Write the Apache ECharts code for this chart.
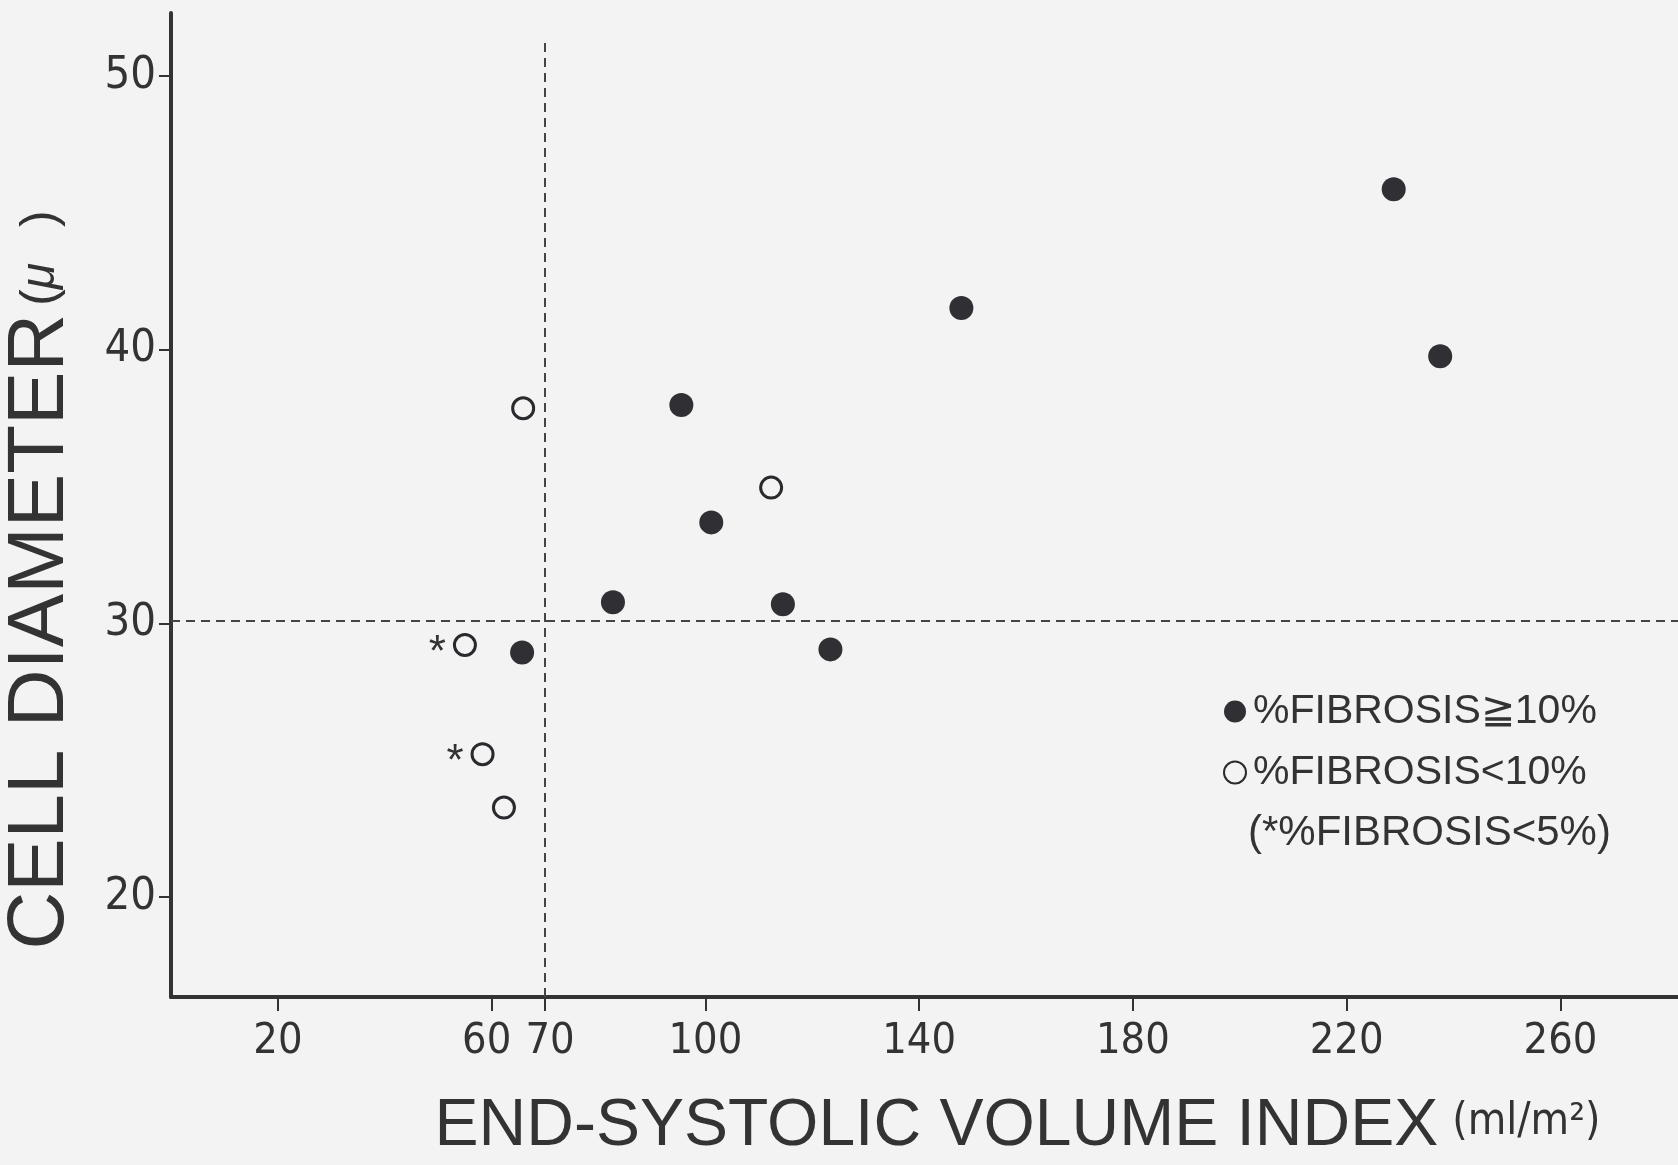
<!DOCTYPE html>
<html>
<head>
<meta charset="utf-8">
<script src="https://cdn.jsdelivr.net/npm/echarts@6/dist/echarts.min.js"></script>
<style>
  body { margin: 0; background: #f4f3f4; }
  #box { width: 1678px; height: 1165px; }
</style>
</head>
<body>
<div id="box"></div>
<script>
// %FIBROSIS >= 10% (filled circles)
const fillX = [228.8, 147.9, 237.5, 95.5, 101.1, 82.7, 114.5, 65.7, 123.4];
const fillY = [45.86, 41.52, 39.76, 37.98, 33.69, 30.77, 30.7, 28.94, 29.05];
// %FIBROSIS < 10% (open circles), star = %FIBROSIS < 5%
const openX = [65.9, 112.3, 55.0, 58.3, 62.3];
const openY = [37.86, 34.96, 29.21, 25.22, 23.27];
const openStar = [false, false, true, true, false];

const xTicks = [20, 60, 70, 100, 140, 180, 220, 260];
const yTicks = [20, 30, 40, 50];
const refX = 70;
const refY = 30.1;

const ink = "#333";
const narrow = "'Liberation Sans Narrow', 'DejaVu Sans Condensed', 'Liberation Sans', sans-serif";
const sans = "'Liberation Sans', Arial, sans-serif";

let chart = echarts.init(document.getElementById("box"));

chart.setOption({
  backgroundColor: "#f4f3f4",
  animation: false,
  grid: { left: 171, right: 0, top: 13, bottom: 168, outerBoundsMode: "none", containLabel: false },
  xAxis: {
    type: "value",
    min: 0,
    max: 282,
    splitLine: { show: false },
    axisLine: { lineStyle: { color: ink, width: 4 } },
    axisTick: { customValues: xTicks, length: 14, lineStyle: { color: ink, width: 2 } },
    axisLabel: {
      customValues: xTicks,
      margin: 23,
      color: ink,
      fontSize: 43,
      fontFamily: narrow,
      // 60 and 70 sit close together, nudge them apart a little
      formatter: (v) => (v === 60 ? "{l|60}" : v === 70 ? "{r|70}" : String(v)),
      rich: {
        l: { fontSize: 43, fontFamily: narrow, color: ink, padding: [0, 10, 0, 0] },
        r: { fontSize: 43, fontFamily: narrow, color: ink, padding: [0, 0, 0, 10] },
      },
    },
    name: "END-SYSTOLIC VOLUME INDEX{u|(ml/m²)}",
    nameLocation: "middle",
    nameMoveOverlap: false,
    nameGap: 97,
    nameTextStyle: {
      color: ink, fontSize: 66, fontFamily: sans,
      padding: [0, 0, 0, 186],
      rich: { u: { fontSize: 44, fontFamily: narrow, color: ink, padding: [0, 0, 8, 14] } },
    },
  },
  yAxis: {
    type: "value",
    min: 16.35,
    max: 52.3,
    splitLine: { show: false },
    axisLine: { lineStyle: { color: ink, width: 4 } },
    axisTick: { customValues: yTicks, length: 12, lineStyle: { color: ink, width: 2 } },
    axisLabel: { customValues: yTicks, margin: 15, color: ink, fontSize: 45, fontFamily: narrow },
    name: "CELL DIAMETER{p|(}{m|μ}{p|  )}",
    nameLocation: "middle",
    nameMoveOverlap: false,
    nameRotate: 90,
    nameGap: 90,
    nameTextStyle: {
      color: ink, fontSize: 80, fontFamily: sans,
      padding: [0, 150, 0, 0],
      rich: {
        p: { fontSize: 50, fontFamily: sans, color: ink, padding: [0, 0, 0, 8] },
        m: { fontSize: 48, fontFamily: sans, fontStyle: "italic", color: ink },
      },
    },
  },
  legend: {
    orient: "vertical",
    left: 1218,
    top: 686,
    itemWidth: 22,
    itemHeight: 22,
    itemGap: 20,
    textStyle: { color: ink, fontSize: 41, fontFamily: sans, padding: [0, 0, 0, 2] },
    data: ["%FIBROSIS≧10%", "%FIBROSIS<10%"],
  },
  graphic: [
    {
      type: "text",
      left: 1248,
      top: 812,
      style: { text: "(*%FIBROSIS<5%)", fill: ink, font: "42px " + sans },
    },
  ],
  series: [
    {
      name: "%FIBROSIS≧10%",
      type: "scatter",
      symbol: "circle",
      symbolSize: 24,
      itemStyle: { color: "#303034", opacity: 1 },
      data: fillX.map((x, i) => [x, fillY[i]]),
      markLine: {
        silent: true,
        symbol: "none",
        label: { show: false },
        lineStyle: { color: "#444", width: 2, type: [9, 6] },
        data: [
          [{ coord: [refX, 16.35] }, { coord: [refX, 51.33] }],
          [{ coord: [0, refY] }, { coord: [282, refY] }],
        ],
      },
    },
    {
      name: "%FIBROSIS<10%",
      type: "scatter",
      symbol: "circle",
      symbolSize: 21,
      itemStyle: { color: "#f4f3f4", borderColor: "#2a2a2e", borderWidth: 3, opacity: 1 },
      label: {
        show: true,
        position: "left",
        distance: 7,
        offset: [0, 9],
        color: ink,
        fontSize: 44,
        fontFamily: sans,
        formatter: (p) => (openStar[p.dataIndex] ? "*" : ""),
      },
      data: openX.map((x, i) => [x, openY[i]]),
    },
  ],
});
</script>
</body>
</html>
